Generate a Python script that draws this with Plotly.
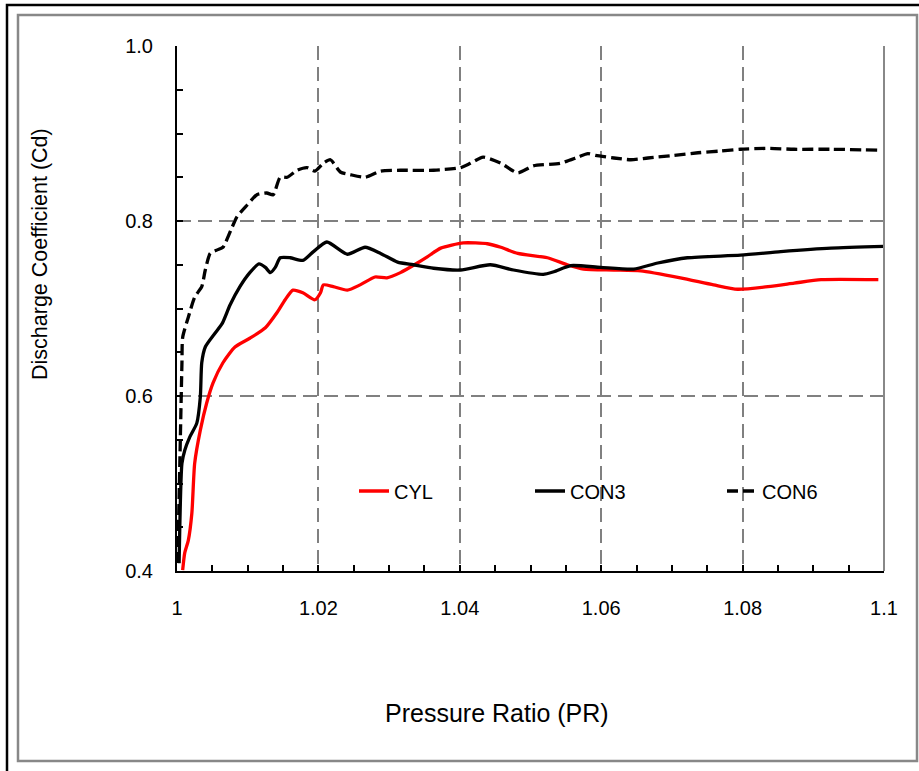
import plotly.graph_objects as go

# ---------------- data ----------------
cyl_pr = [1.0008, 1.0011, 1.0016, 1.0021, 1.0025, 1.0033, 1.0042, 1.0051, 1.0065, 1.0082,
          1.0103, 1.0125, 1.0142, 1.0153, 1.0164, 1.0178, 1.0195, 1.0203, 1.0207, 1.0221,
          1.0241, 1.0259, 1.0280, 1.0297, 1.0316, 1.0340, 1.0354, 1.0373, 1.0405, 1.0439,
          1.0458, 1.0482, 1.0524, 1.0552, 1.0575, 1.0618, 1.0656, 1.0712, 1.0759, 1.0793,
          1.0836, 1.0873, 1.0911, 1.0992]
cyl_cd = [0.401, 0.421, 0.435, 0.466, 0.523, 0.561, 0.592, 0.615, 0.638, 0.656,
          0.666, 0.678, 0.696, 0.710, 0.721, 0.718, 0.710, 0.718, 0.727, 0.725,
          0.721, 0.727, 0.736, 0.735, 0.741, 0.752, 0.759, 0.769, 0.775, 0.774,
          0.770, 0.763, 0.758, 0.750, 0.745, 0.744, 0.743, 0.735, 0.727, 0.722,
          0.725, 0.729, 0.733, 0.733]

con3_pr = [1.0003, 1.0007, 1.0011, 1.0018, 1.0028, 1.0033, 1.0035, 1.0040, 1.0054, 1.0064,
           1.0075, 1.0089, 1.0103, 1.0116, 1.0125, 1.0132, 1.0139, 1.0146, 1.0160, 1.0178,
           1.0193, 1.0212, 1.0241, 1.0266, 1.0288, 1.0312, 1.0334, 1.0363, 1.0401, 1.0443,
           1.0476, 1.0518, 1.0533, 1.0557, 1.0599, 1.0646, 1.0680, 1.0722, 1.0797, 1.0854,
           1.0925, 1.1000]
con3_cd = [0.409, 0.523, 0.538, 0.553, 0.569, 0.599, 0.638, 0.656, 0.672, 0.683,
           0.704, 0.725, 0.741, 0.751, 0.747, 0.741, 0.747, 0.758, 0.758, 0.755,
           0.765, 0.776, 0.762, 0.770, 0.763, 0.753, 0.750, 0.746, 0.744, 0.750,
           0.744, 0.739, 0.742, 0.749, 0.747, 0.745, 0.752, 0.758, 0.761, 0.765,
           0.769, 0.771]

con6_pr = [1.0001, 1.0004, 1.0007, 1.0008, 1.0016, 1.0025, 1.0035, 1.0040, 1.0047, 1.0057,
           1.0065, 1.0078, 1.0085, 1.0099, 1.0113, 1.0127, 1.0136, 1.0146, 1.0156, 1.0170,
           1.0184, 1.0195, 1.0207, 1.0217, 1.0231, 1.0245, 1.0266, 1.0288, 1.0316, 1.0363,
           1.0401, 1.0415, 1.0433, 1.0458, 1.0482, 1.0504, 1.0542, 1.0567, 1.0581, 1.0592,
           1.0618, 1.0642, 1.0666, 1.0703, 1.0737, 1.0769, 1.0797, 1.0836, 1.0873, 1.0925,
           1.0992]
con6_cd = [0.409, 0.523, 0.638, 0.667, 0.690, 0.713, 0.725, 0.744, 0.763, 0.767,
           0.770, 0.793, 0.805, 0.818, 0.830, 0.832, 0.830, 0.850, 0.850, 0.858,
           0.861, 0.857, 0.866, 0.870, 0.856, 0.853, 0.850, 0.857, 0.858, 0.858,
           0.861, 0.866, 0.873, 0.866, 0.855, 0.863, 0.866, 0.873, 0.877, 0.875,
           0.872, 0.870, 0.872, 0.875, 0.878, 0.880, 0.882, 0.883, 0.882, 0.882,
           0.881]

x_ticks = [1.0, 1.02, 1.04, 1.06, 1.08, 1.1]
x_tick_labels = ["1", "1.02", "1.04", "1.06", "1.08", "1.1"]
y_ticks = [0.4, 0.6, 0.8, 1.0]
y_tick_labels = ["0.4", "0.6", "0.8", "1.0"]

x_title = "Pressure Ratio (PR)"
y_title = "Discharge Coefficient (Cd)"

# ---------------- layout geometry (pixels) ----------------
W, H = 919, 771
PL, PR_, PT, PB = 177, 884, 46, 571   # plot area edges


def px_x(p):
    return (p - PL) / (PR_ - PL)


def px_y(p):
    return (PB - p) / (PB - PT)


FONT = "Liberation Sans, Arial, sans-serif"
GRID_DASH = "14px,7px"

fig = go.Figure()
fig.add_trace(go.Scatter(x=cyl_pr, y=cyl_cd, mode="lines", name="CYL",
                         line=dict(color="#FF0000", width=3.3, shape="spline", smoothing=0.6),
                         legend="legend"))
fig.add_trace(go.Scatter(x=con3_pr, y=con3_cd, mode="lines", name="CON3",
                         line=dict(color="#000000", width=3.3, shape="spline", smoothing=0.6),
                         legend="legend2"))
fig.add_trace(go.Scatter(x=con6_pr, y=con6_cd, mode="lines", name="CON6",
                         line=dict(color="#000000", width=3.3, dash="11px,5px",
                                   shape="spline", smoothing=0.6),
                         legend="legend3"))

leg_common = dict(font=dict(family=FONT, size=20, color="black"),
                  bgcolor="rgba(0,0,0,0)", borderwidth=0,
                  yanchor="middle", xanchor="left", orientation="h")
leg_y = px_y(491)

fig.update_layout(
    width=W, height=H,
    margin=dict(l=PL, r=W - PR_, t=PT, b=H - PB),
    paper_bgcolor="white", plot_bgcolor="white",
    font=dict(family=FONT, size=20, color="black"),
    showlegend=True,
    legend=dict(x=px_x(394 - 40), y=leg_y, **leg_common),
    legend2=dict(x=px_x(570 - 40), y=leg_y, **leg_common),
    legend3=dict(x=px_x(762 - 40), y=leg_y, **leg_common),
    xaxis=dict(range=[1.0, 1.1], tickvals=x_ticks, ticktext=x_tick_labels,
               showline=True, linecolor="black", linewidth=2,
               ticks="inside", ticklen=6, tickwidth=1.5, tickcolor="black",
               minor=dict(dtick=0.005, tick0=1.0, ticks="inside", ticklen=6,
                          tickwidth=1.5, tickcolor="black", showgrid=False),
               showgrid=True, gridcolor="#808080", gridwidth=1.5, griddash=GRID_DASH,
               zeroline=False, tickfont=dict(size=20, family=FONT),
               ticklabelstandoff=18),
    yaxis=dict(range=[0.4, 1.0], tickvals=y_ticks, ticktext=y_tick_labels,
               showline=True, linecolor="black", linewidth=2,
               ticks="inside", ticklen=6, tickwidth=1.5, tickcolor="black",
               minor=dict(dtick=0.05, tick0=0.4, ticks="inside", ticklen=6,
                          tickwidth=1.5, tickcolor="black", showgrid=False),
               showgrid=True, gridcolor="#808080", gridwidth=1.5, griddash=GRID_DASH,
               zeroline=False, tickfont=dict(size=20, family=FONT),
               ticklabelstandoff=18),
)

# frames
fig.add_shape(type="rect", xref="paper", yref="paper",
              x0=px_x(7), x1=px_x(930), y0=px_y(790), y1=px_y(5),
              line=dict(color="black", width=2.5), fillcolor="rgba(0,0,0,0)", layer="above")
fig.add_shape(type="rect", xref="paper", yref="paper",
              x0=px_x(18), x1=px_x(917), y0=px_y(761), y1=px_y(15),
              line=dict(color="#888888", width=2.5), fillcolor="rgba(0,0,0,0)", layer="above")
# right border of the plot area
fig.add_shape(type="line", xref="paper", yref="paper",
              x0=1, x1=1, y0=0, y1=1,
              line=dict(color="#888888", width=2), layer="above")

# axis titles
fig.add_annotation(text=x_title, xref="paper", yref="paper",
                   x=px_x(497), y=px_y(713), showarrow=False,
                   xanchor="center", yanchor="middle",
                   font=dict(family=FONT, size=25, color="black"))
fig.add_annotation(text=y_title, xref="paper", yref="paper",
                   x=px_x(40), y=px_y(254), showarrow=False, textangle=-90,
                   xanchor="center", yanchor="middle",
                   font=dict(family=FONT, size=21.5, color="black"))

fig.write_html("out.html",
               config={"displayModeBar": False},
               post_script="document.body.style.margin='0';document.body.style.overflow='hidden';")
